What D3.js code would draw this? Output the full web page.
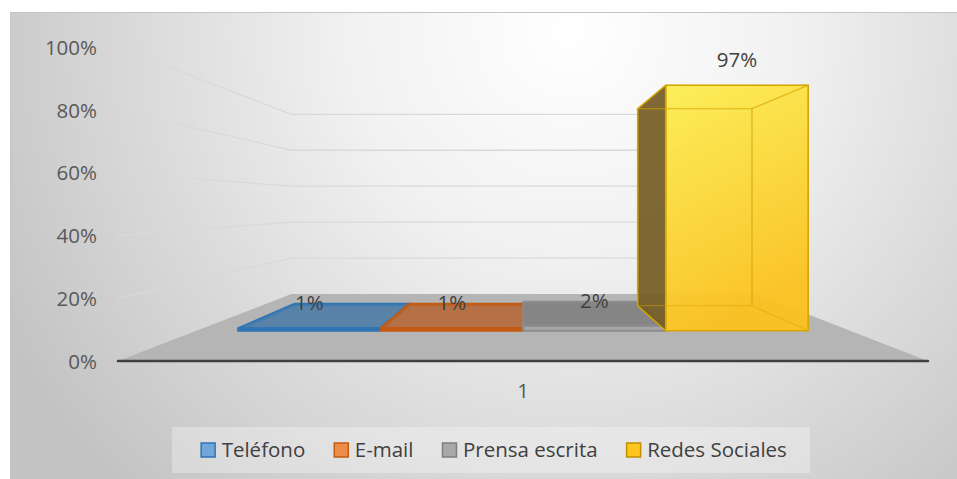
<!DOCTYPE html>
<html>
<head>
<meta charset="utf-8">
<script src="https://cdn.jsdelivr.net/npm/d3@7"></script>
<style>
  body { margin: 0; background: #fff; }
  text { font-family: "Open Sans", sans-serif; }
</style>
</head>
<body>
<div id="chart"></div>
<script>
const categories = ["1"]
const seriesNames = ["Teléfono", "E-mail", "Prensa escrita", "Redes Sociales"]
const seriesValues = [0.01, 0.01, 0.02, 0.97]
const yTicks = [0, 0.2, 0.4, 0.6, 0.8, 1]

const width = 957
const height = 479
const fontSize = 20.5

// colours per series: top, front, side, edge, legend fill
const palette = [
  {top: "#527ea7", front: "#3f6f9e", side: "#3a6690", edge: "#2e75b6", key: "#70a6da"},
  {top: "#b56a3c", front: "#c0622a", side: "#9c5425", edge: "#c55a11", key: "#ee8c4a"},
  {top: "#818181", front: "#a6a6a6", side: "#6e6e6e", edge: "#8c8c8c", key: "#a8a8a8"},
  {top: "#f8d640", front: "url(#goldFront)", side: "#745d24", edge: "#d6a500", key: "#ffc61e"}
]
const keyEdges = ["#2e75b6", "#c55a11", "#7f7f7f", "#bf9000"]

// perspective: vanishing point and focal length (depth 0 = front, 1 = back wall)
const VP = [524, 204]
const focal = 1.342
const proj = (X, Y, Z) => {
  const s = focal / (focal + Z)
  return [VP[0] + s * (X - VP[0]), VP[1] + s * (Y - VP[1])]
}
const zFront = 0.32
const zBack = 0.73

const svg = d3.select("#chart")
  .append("svg")
  .attr("width", width)
  .attr("height", height)

const defs = svg.append("defs")
const bg = defs.append("radialGradient")
  .attr("id", "bgGrad")
  .attr("gradientUnits", "userSpaceOnUse")
  .attr("cx", 570).attr("cy", 30).attr("r", 640)
bg.append("stop").attr("offset", 0).attr("stop-color", "#ffffff")
bg.append("stop").attr("offset", 0.35).attr("stop-color", "#f1f1f1")
bg.append("stop").attr("offset", 1).attr("stop-color", "#c3c3c3")

const gold = defs.append("linearGradient")
  .attr("id", "goldFront")
  .attr("x1", 0).attr("y1", 0).attr("x2", 0.3).attr("y2", 1)
gold.append("stop").attr("offset", 0).attr("stop-color", "#fcee52")
gold.append("stop").attr("offset", 1).attr("stop-color", "#fbc21f")

// chart area
svg.append("rect")
  .attr("x", 10.5).attr("y", 12.5)
  .attr("width", width).attr("height", height)
  .attr("fill", "url(#bgGrad)")
  .attr("stroke", "#c4c4c4")

// Scales
const x0 = d3.scaleBand()
  .domain(categories)
  .range([118, 928])
  .paddingInner(0)
  .paddingOuter(0.0737)
const x1 = d3.scaleBand()
  .domain(seriesNames)
  .range([0, x0.bandwidth()])
const y = d3.scaleLinear()
  .domain([0, 1])
  .range([361, 47.5])

const xLeft = x0.range()[0]
const xRight = x0.range()[1]
const line = d3.line()

// Gridlines on left and back walls
svg.append("g")
  .selectAll("path")
  .data(yTicks.filter(t => t > 0))
  .enter()
  .append("path")
  .attr("d", t => line([proj(xLeft, y(t), 0), proj(xLeft, y(t), 1), proj(xRight, y(t), 1)]))
  .attr("fill", "none")
  .attr("stroke", "#d9d9d9")
  .attr("stroke-width", 1.3)

// Floor
svg.append("path")
  .attr("d", line([proj(xLeft, y(0), 0), proj(xRight, y(0), 0), proj(xRight, y(0), 1), proj(xLeft, y(0), 1)]) + "Z")
  .attr("fill", "#b5b5b5")

svg.append("line")
  .attr("x1", xLeft).attr("x2", xRight)
  .attr("y1", y(0)).attr("y2", y(0))
  .attr("stroke", "#404040")
  .attr("stroke-width", 2.5)
  .attr("stroke-linecap", "round")

// Bars as perspective boxes
const barData = seriesNames.map((name, i) => {
  const bx0 = x0(categories[0]) + x1(name)
  const bx1 = bx0 + x1.bandwidth()
  const yb = y(0)
  const yt = y(seriesValues[i])
  const faces = {
    front: [[bx0, yb, zFront], [bx1, yb, zFront], [bx1, yt, zFront], [bx0, yt, zFront]],
    back: [[bx0, yb, zBack], [bx1, yb, zBack], [bx1, yt, zBack], [bx0, yt, zBack]],
    top: [[bx0, yt, zFront], [bx1, yt, zFront], [bx1, yt, zBack], [bx0, yt, zBack]],
    left: [[bx0, yb, zFront], [bx0, yt, zFront], [bx0, yt, zBack], [bx0, yb, zBack]],
    right: [[bx1, yb, zFront], [bx1, yt, zFront], [bx1, yt, zBack], [bx1, yb, zBack]]
  }
  const visible = {
    front: true,
    back: false,
    top: yt > VP[1],
    left: bx0 > VP[0],
    right: bx1 < VP[0]
  }
  return {name, i, bx0, bx1, yt, faces, visible}
})

const toPath = pts => line(pts.map(p => proj(p[0], p[1], p[2]))) + "Z"

const bars = svg.append("g")
barData.forEach(d => {
  const c = palette[d.i]
  const g = bars.append("g")
  const order = ["left", "right", "top", "front"].filter(k => d.visible[k])
  order.forEach(k => {
    const fill = k === "top" ? c.top : (k === "front" ? c.front : c.side)
    g.append("path")
      .attr("d", toPath(d.faces[k]))
      .attr("fill", fill)
      .attr("fill-opacity", k === "front" ? 0.95 : 0.93)
  })
  // hidden edges seen through the transparent fill
  ;["back", "top", "left", "right"].filter(k => !d.visible[k]).forEach(k => {
    g.append("path")
      .attr("d", toPath(d.faces[k]))
      .attr("fill", "none")
      .attr("stroke", c.edge)
      .attr("stroke-opacity", 0.45)
      .attr("stroke-width", 1.2)
  })
  order.forEach(k => {
    g.append("path")
      .attr("d", toPath(d.faces[k]))
      .attr("fill", "none")
      .attr("stroke", c.edge)
      .attr("stroke-width", d.i === 3 ? 1.5 : 2)
      .attr("stroke-linejoin", "round")
  })
})

// Data labels
svg.append("g")
  .selectAll("text")
  .data(barData)
  .enter()
  .append("text")
  .attr("x", d => proj((d.bx0 + d.bx1) / 2, d.yt, zFront)[0])
  .attr("y", d => proj((d.bx0 + d.bx1) / 2, d.yt, zFront)[1] - 18)
  .attr("text-anchor", "middle")
  .attr("fill", "#404040")
  .style("font-size", fontSize + "px")
  .text(d => d3.format(".0%")(seriesValues[d.i]))

// Y axis labels
svg.append("g")
  .selectAll("text")
  .data(yTicks)
  .enter()
  .append("text")
  .attr("x", 97)
  .attr("y", t => y(t) + 7.5)
  .attr("text-anchor", "end")
  .attr("fill", "#595959")
  .style("font-size", fontSize + "px")
  .text(t => d3.format(".0%")(t))

// Category label
svg.append("text")
  .attr("x", x0(categories[0]) + x0.bandwidth() / 2)
  .attr("y", 398)
  .attr("text-anchor", "middle")
  .attr("fill", "#595959")
  .style("font-size", fontSize + "px")
  .text(categories[0])

// Legend
const legend = svg.append("g")
legend.append("rect")
  .attr("x", 172).attr("y", 427)
  .attr("width", 638).attr("height", 46)
  .attr("fill", "#ffffff")
  .attr("fill-opacity", 0.3)

const items = legend.selectAll("g.item")
  .data(seriesNames)
  .enter()
  .append("g")
  .attr("class", "item")
items.append("rect")
  .attr("width", 14).attr("height", 14)
  .attr("fill", (d, i) => palette[i].key)
  .attr("stroke", (d, i) => keyEdges[i])
  .attr("stroke-width", 1.5)
items.append("text")
  .attr("x", 20.5)
  .attr("y", 13.5)
  .attr("fill", "#404040")
  .style("font-size", fontSize + "px")
  .text(d => d)

const widths = []
items.select("text").each(function () { widths.push(this.getComputedTextLength()) })
const gap = 29
const total = d3.sum(widths, w => w + 20.5) + gap * (widths.length - 1)
let cursor = 494 - total / 2
items.attr("transform", (d, i) => {
  const tx = cursor
  cursor += 20.5 + widths[i] + gap
  return "translate(" + tx + ",443)"
})
</script>
</body>
</html>
